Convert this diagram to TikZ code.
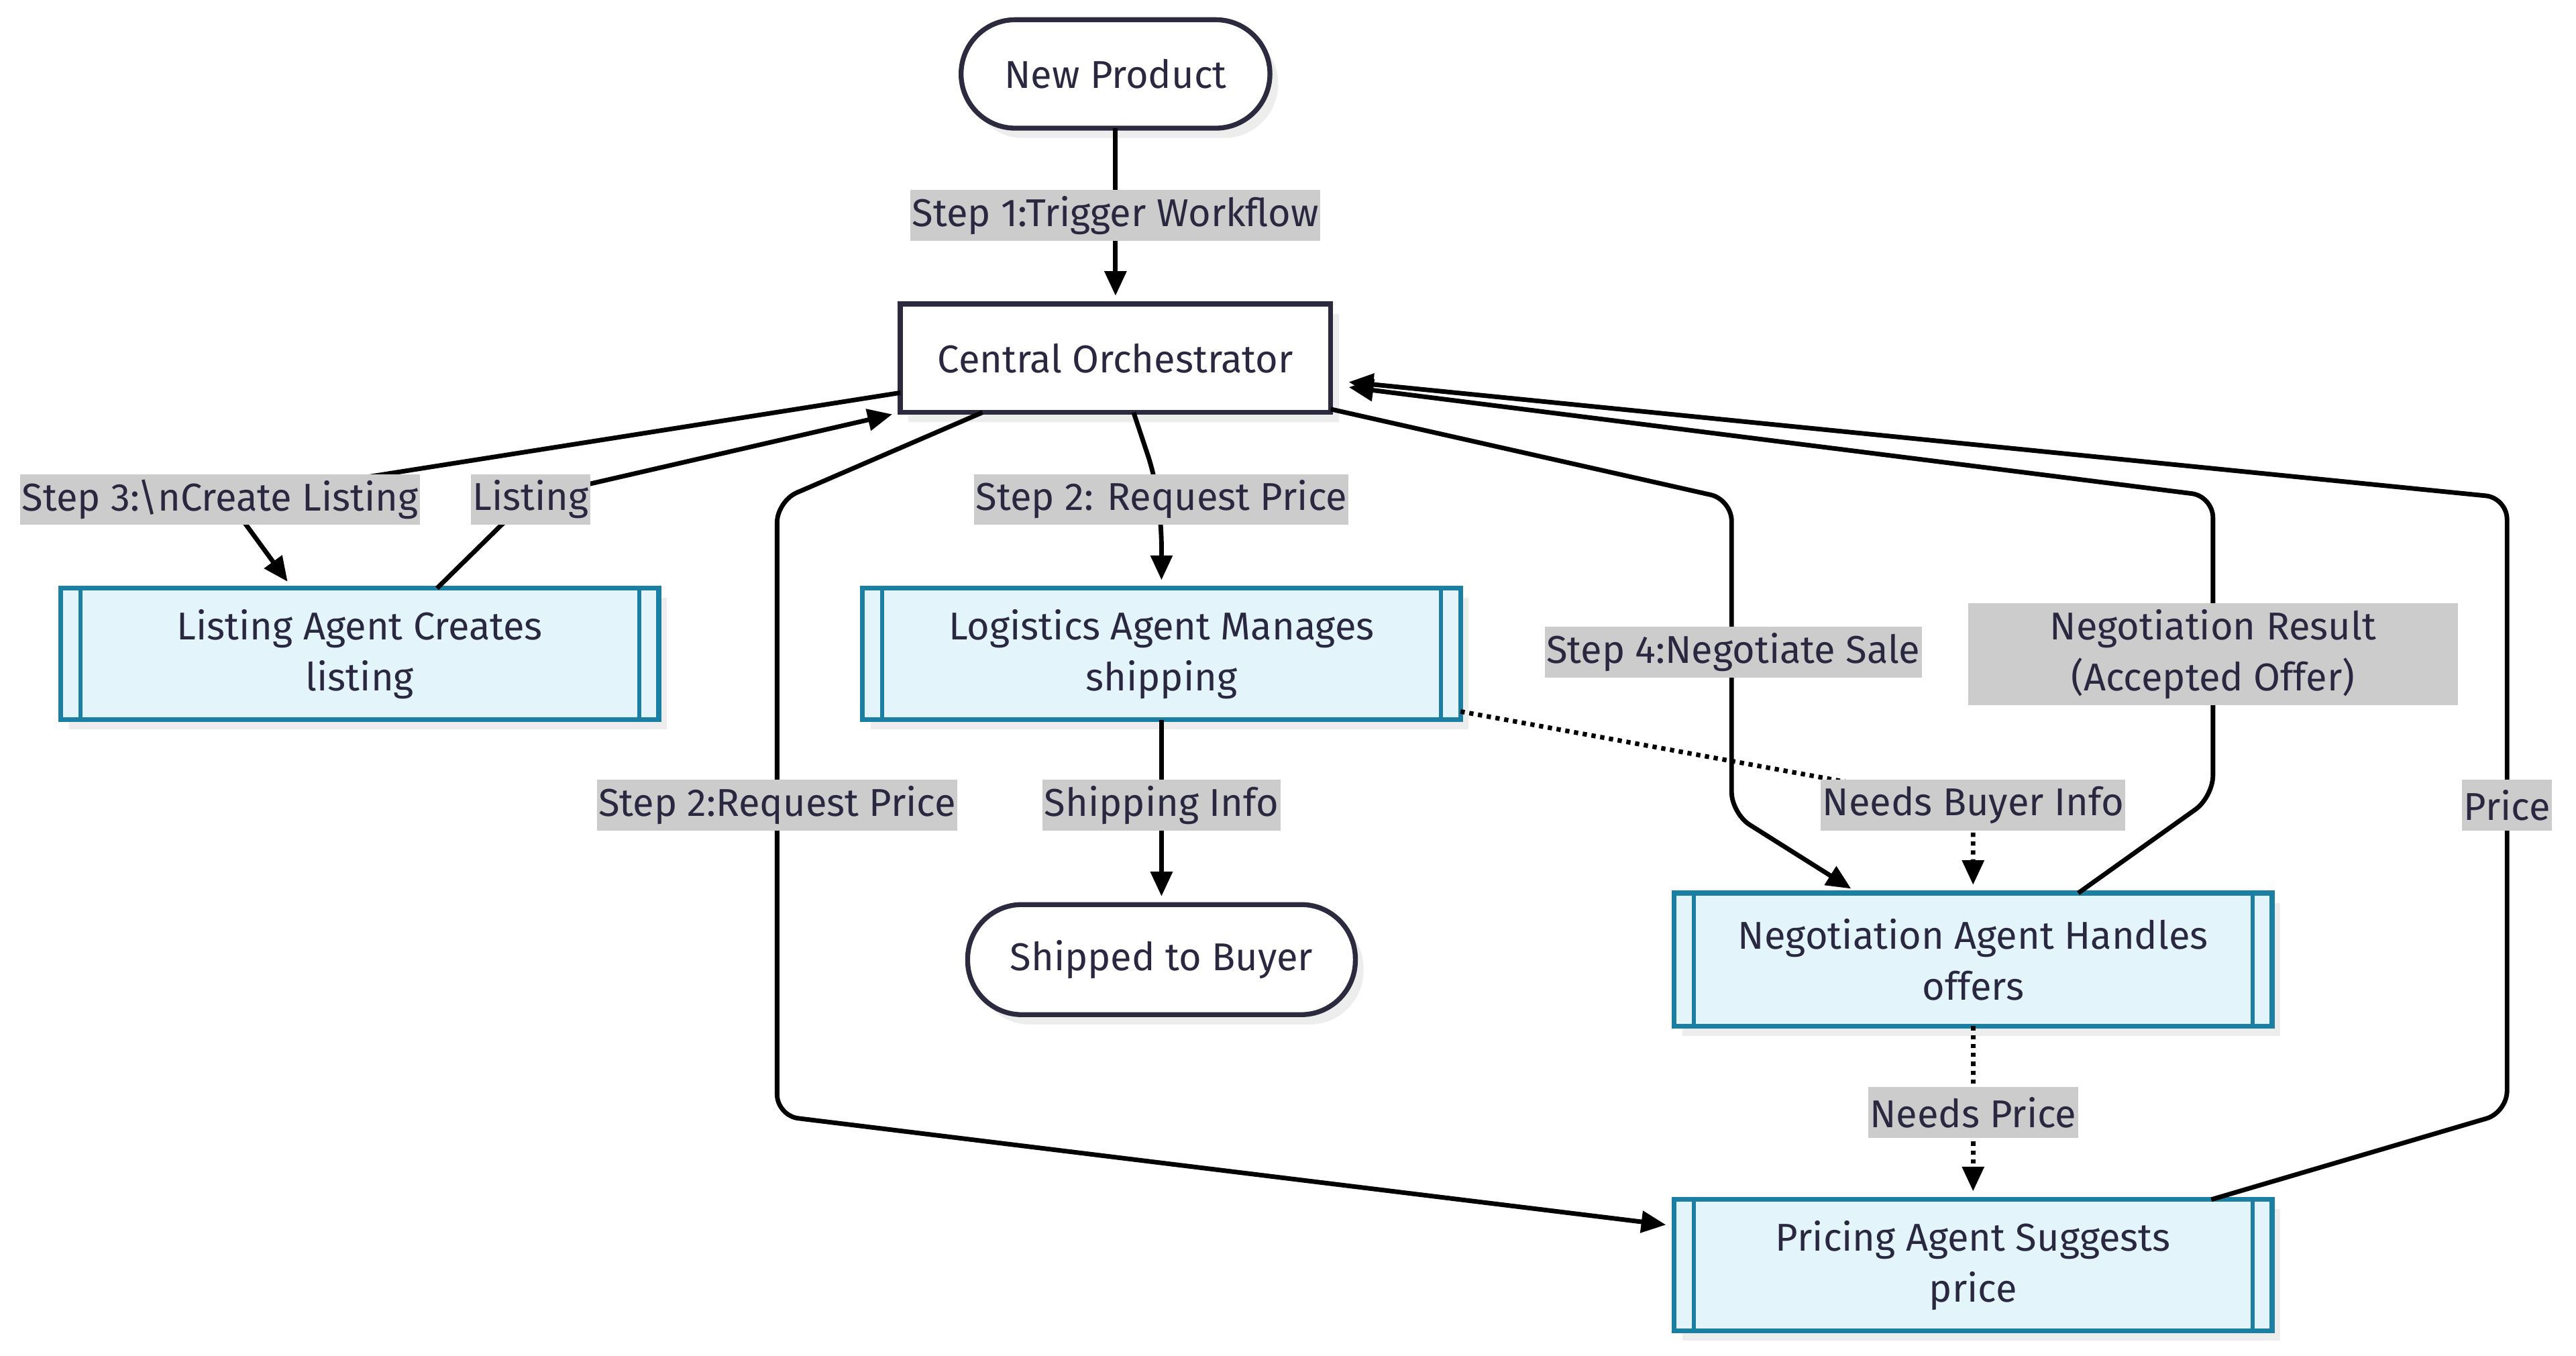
\documentclass[tikz,border=0pt]{standalone}
\usepackage{fontspec}
\setmainfont{Fira Sans}
\usetikzlibrary{arrows.meta,shadows}
\definecolor{txt}{HTML}{2A2840}
\definecolor{nodeborder}{HTML}{2B2A3F}
\definecolor{subfill}{HTML}{E3F5FB}
\definecolor{subborder}{HTML}{1B7EA3}
\definecolor{lblfill}{HTML}{CCCCCC}
\definecolor{shadowc}{HTML}{EDEDED}
\tikzset{
  base/.style={font=\fontsize{23.6}{31}\selectfont, text=txt, align=center, inner sep=0pt, outer sep=0pt},
  shad/.style={general shadow={shadow xshift=5pt, shadow yshift=-6pt, fill=shadowc}},
  stadium/.style={base, shad, draw=nodeborder, line width=3pt, fill=white, rounded corners=33pt, minimum height=66pt},
  plainbox/.style={base, shad, draw=nodeborder, line width=3pt, fill=white, minimum width=262pt, minimum height=66pt},
  subbox/.style={base, shad, draw=subborder, line width=3pt, fill=subfill, minimum width=364pt, minimum height=80pt},
  subline/.style={draw=subborder, line width=2.4pt},
  lbl/.style={base, fill=lblfill, inner xsep=1pt, minimum height=31pt},
  conn/.style={draw=black, line width=2.8pt, rounded corners=13pt},
  arr/.style={-{Triangle[length=15pt,width=13pt]}, shorten >=5pt},
  dots/.style={dash pattern=on 2.6pt off 2.8pt},
}
\begin{document}
\begin{tikzpicture}[x=1pt,y=-1pt]
\useasboundingbox (0,0) rectangle (1568,825);
\fill[white] (0,0) rectangle (1568,825);

% nodes
\node[stadium, minimum width=188pt] (np) at (679,45) {New Product};
\node[plainbox] (co) at (679,218) {Central Orchestrator};
\node[subbox] (la) at (219,398) {Listing Agent Creates\\listing};
\node[subbox] (lo) at (707,398) {Logistics Agent Manages\\shipping};
\node[stadium, minimum width=236pt, minimum height=67pt] (sh) at (707,584) {Shipped to Buyer};
\node[subbox, minimum height=81pt] (ne) at (1201,584) {Negotiation Agent Handles\\offers};
\node[subbox] (pr) at (1201,770) {Pricing Agent Suggests\\price};

\foreach \n in {la,lo,ne,pr}{
  \draw[subline] ([xshift=12pt]\n.north west) -- ([xshift=12pt]\n.south west);
  \draw[subline] ([xshift=-12pt]\n.north east) -- ([xshift=-12pt]\n.south east);
}

% connectors
\draw[conn,arr] (np.south) -- (co.north);
\draw[conn,arr] ([yshift=-21pt]co.west) -- (200,294) -- (140,306) -- ([xshift=-41pt]la.north);
\draw[conn,arr] ([xshift=47pt]la.north) -- (322,303) -- (co.south west);
\draw[conn,arr] ([xshift=11pt]co.south) -- (703,290) -- (707,320) -- (lo.north);
\draw[conn,arr] ([xshift=-81pt]co.south) -- (473,305) -- (473,679) -- ([yshift=24pt]pr.west);
\draw[conn,arr] ([yshift=2pt]co.south east) -- (1054,304) -- (1054,495) -- ([xshift=-70pt]ne.north);
\draw[conn,arr] ([xshift=64pt]ne.north) -- (1347,485) -- (1347,302) -- ([xshift=6pt,yshift=-17pt]co.east);
\draw[conn,arr] ([xshift=145pt]pr.north) -- (1526,677) -- (1526,303) -- ([xshift=6pt,yshift=-14pt]co.east);
\draw[conn,arr] (lo.south) -- (707,490) -- (sh.north);
\draw[conn,arr,dots] ([yshift=5pt]lo.south east) -- (1201,490) -- (ne.north);
\draw[conn,arr,dots] (ne.south) -- (pr.north);

% labels
\node[lbl] (l1) at (679,131) {Step 1:Trigger Workflow};
\node[lbl] (l3) at (134,304) {Step 3:\textbackslash nCreate Listing};
\node[lbl] (lli) at (323,304) {Listing};
\node[lbl] (l2a) at (707,304) {Step 2: Request Price};
\node[lbl] (l2b) at (473,490) {Step 2:Request Price};
\node[lbl] (l4) at (1055,397) {Step 4:Negotiate Sale};
\node[lbl, minimum width=298pt, minimum height=62pt] (lnr) at (1347,398) {Negotiation Result\\(Accepted Offer)};
\node[lbl] (lpr) at (1526,490) {Price};
\node[lbl] (lsi) at (707,490) {Shipping Info};
\node[lbl] (lnb) at (1201,490) {Needs Buyer Info};
\node[lbl] (lnp) at (1201,677) {Needs Price};
\end{tikzpicture}
\end{document}
